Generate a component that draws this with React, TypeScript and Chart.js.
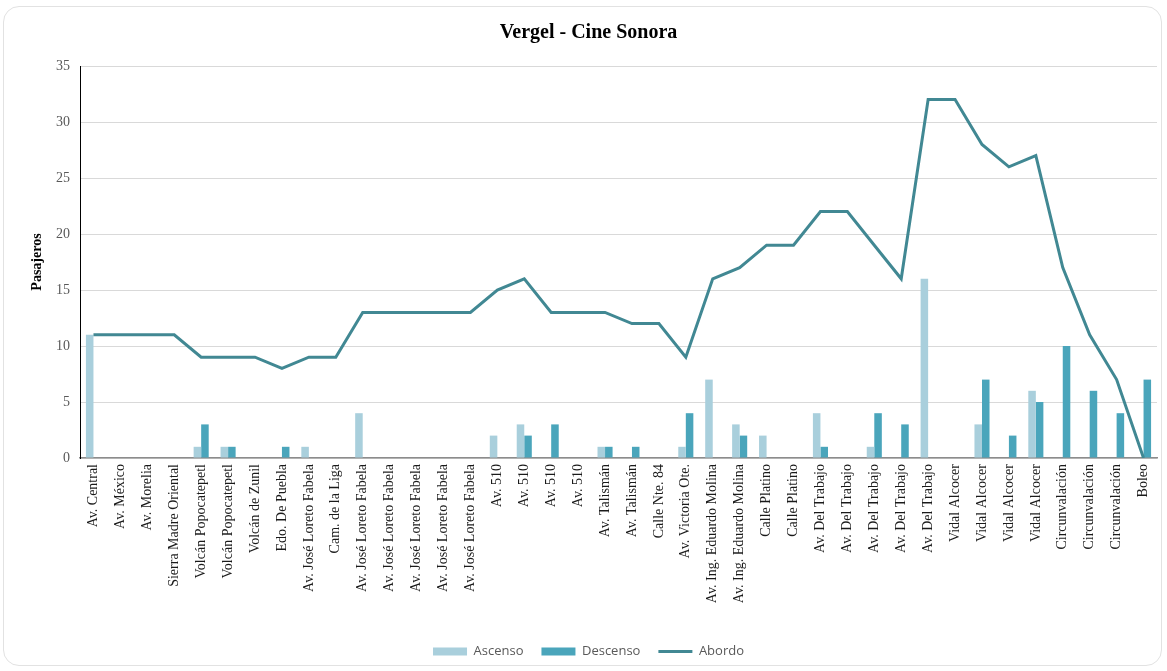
import React, { useEffect, useRef } from "react";
import { Chart, registerables } from "chart.js";

Chart.register(...registerables);

const categories: string[] = [
  "Av. Central",
  "Av. México",
  "Av. Morelia",
  "Sierra Madre Oriental",
  "Volcán Popocatepetl",
  "Volcán Popocatepetl",
  "Volcán de Zunil",
  "Edo. De Puebla",
  "Av. José Loreto Fabela",
  "Cam. de la Liga",
  "Av. José Loreto Fabela",
  "Av. José Loreto Fabela",
  "Av. José Loreto Fabela",
  "Av. José Loreto Fabela",
  "Av. José Loreto Fabela",
  "Av. 510",
  "Av. 510",
  "Av. 510",
  "Av. 510",
  "Av. Talismán",
  "Av. Talismán",
  "Calle Nte. 84",
  "Av. Victoria Ote.",
  "Av. Ing. Eduardo Molina",
  "Av. Ing. Eduardo Molina",
  "Calle Platino",
  "Calle Platino",
  "Av. Del Trabajo",
  "Av. Del Trabajo",
  "Av. Del Trabajo",
  "Av. Del Trabajo",
  "Av. Del Trabajo",
  "Vidal Alcocer",
  "Vidal Alcocer",
  "Vidal Alcocer",
  "Vidal Alcocer",
  "Circunvalación",
  "Circunvalación",
  "Circunvalación",
  "Boleo",
];

const ascenso: number[] = [
  11, 0, 0, 0, 1, 1, 0, 0, 1, 0,
  4, 0, 0, 0, 0, 2, 3, 0, 0, 1,
  0, 0, 1, 7, 3, 2, 0, 4, 0, 1,
  0, 16, 0, 3, 0, 6, 0, 0, 0, 0,
];

const descenso: number[] = [
  0, 0, 0, 0, 3, 1, 0, 1, 0, 0,
  0, 0, 0, 0, 0, 0, 2, 3, 0, 1,
  1, 0, 4, 0, 2, 0, 0, 1, 0, 4,
  3, 0, 0, 7, 2, 5, 10, 6, 4, 7,
];

const abordo: number[] = [
  11, 11, 11, 11, 9, 9, 9, 8, 9, 9,
  13, 13, 13, 13, 13, 15, 16, 13, 13, 13,
  12, 12, 9, 16, 17, 19, 19, 22, 22, 19,
  16, 32, 32, 28, 26, 27, 17, 11, 7, 0,
];

const yTicks: number[] = [0, 5, 10, 15, 20, 25, 30, 35];

const SERIF = "'Liberation Serif', 'Times New Roman', serif";
const SANS = "'Open Sans', 'Noto Sans', sans-serif";

export default function App() {
  const ref = useRef<HTMLCanvasElement | null>(null);

  useEffect(() => {
    const canvas = ref.current;
    if (!canvas) return;
    const chart = new Chart(canvas, {
      type: "bar",
      data: {
        labels: categories,
        datasets: [
          {
            type: "bar",
            label: "Ascenso",
            data: ascenso,
            backgroundColor: "#a9cfdc",
            borderWidth: 0,
            categoryPercentage: 0.56,
            barPercentage: 1,
            order: 2,
          },
          {
            type: "bar",
            label: "Descenso",
            data: descenso,
            backgroundColor: "#4aa5bb",
            borderWidth: 0,
            categoryPercentage: 0.56,
            barPercentage: 1,
            order: 2,
          },
          {
            type: "line",
            label: "Abordo",
            data: abordo,
            borderColor: "#418893",
            backgroundColor: "#418893",
            borderWidth: 3,
            pointRadius: 0,
            pointHoverRadius: 0,
            tension: 0,
            fill: false,
            order: 0,
          },
        ] as any,
      },
      options: {
        responsive: false,
        animation: false,
        layout: { padding: { left: 20, right: 10, top: 0, bottom: 3 } },
        plugins: {
          title: {
            display: true,
            text: "Vergel - Cine Sonora",
            color: "#000",
            font: { family: SERIF, size: 20, weight: "bold", lineHeight: 1.2 },
            padding: { top: 21, bottom: 21 },
          },
          legend: {
            position: "bottom",
            labels: {
              usePointStyle: true,
              pointStyleWidth: 34,
              boxHeight: 8,
              padding: 18,
              color: "#595959",
              font: { family: SANS, size: 13 },
              sort: (a: any, b: any) => a.datasetIndex - b.datasetIndex,
              generateLabels: (ch: any) => {
                const items = Chart.defaults.plugins.legend.labels.generateLabels(ch);
                return items.map((it: any) => ({
                  ...it,
                  pointStyle: it.datasetIndex === 2 ? "line" : "rect",
                }));
              },
            },
          },
          tooltip: { enabled: false },
        },
        scales: {
          x: {
            grid: { display: false, drawTicks: false },
            border: { display: true, color: "#8c8c8c", width: 1.5 },
            ticks: {
              autoSkip: false,
              maxRotation: 90,
              minRotation: 90,
              padding: 6,
              color: "#1a1a1a",
              font: { family: SERIF, size: 14 },
            },
            afterFit: (scale: any) => {
              scale.height = 169;
            },
          },
          y: {
            min: 0,
            max: 35,
            afterBuildTicks: (scale: any) => {
              scale.ticks = yTicks.map((v) => ({ value: v }));
            },
            grid: { color: "#d9d9d9", lineWidth: 1, drawTicks: false },
            border: { display: true, color: "#000", width: 1 },
            ticks: {
              padding: 10,
              color: "#595959",
              font: { family: SERIF, size: 14 },
            },
            title: {
              display: true,
              text: "Pasajeros",
              color: "#000",
              font: { family: SERIF, size: 14, weight: "bold", lineHeight: 1.2 },
              padding: { top: 8.6, bottom: 0 },
            },
            afterFit: (scale: any) => {
              scale.width = 60;
            },
          },
        },
      } as any,
    });
    return () => chart.destroy();
  }, []);

  return (
    <div style={{ position: "fixed", left: 0, top: 0, width: 1167, height: 671, background: "#fff" }}>
      <div
        style={{
          position: "absolute",
          left: 3,
          top: 6,
          width: 1159,
          height: 660,
          border: "1px solid #e2e2e2",
          borderRadius: 16,
          boxSizing: "border-box",
        }}
      />
      <canvas
        ref={ref}
        width={1167}
        height={671}
        style={{ position: "absolute", left: 0, top: 0, width: 1167, height: 671 }}
      />
    </div>
  );
}
